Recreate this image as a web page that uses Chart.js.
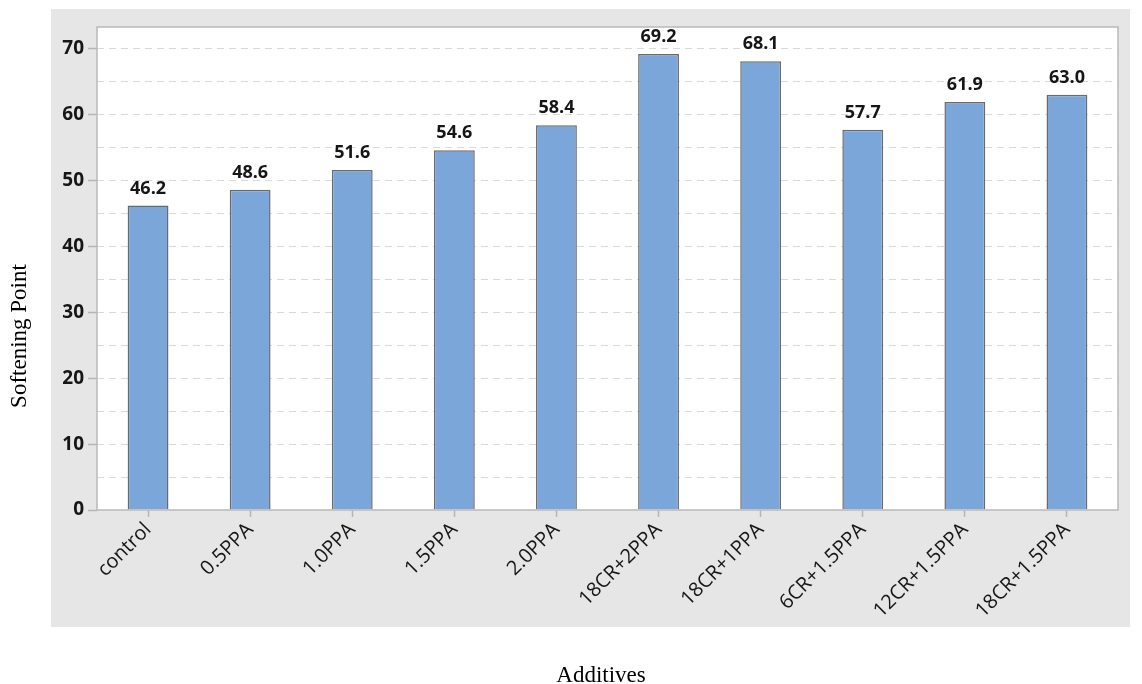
<!DOCTYPE html>
<html>
<head>
<meta charset="utf-8">
<script src="https://cdn.jsdelivr.net/npm/chart.js@4"></script>
<style>
  html, body { margin: 0; padding: 0; background: #ffffff; }
  #wrap { width: 1142px; height: 684px; position: relative; }
</style>
</head>
<body>
<div id="wrap"><canvas id="chart" width="1142" height="684"></canvas></div>
<script>
// Softening point by additive blend
const categories = ['control', '0.5PPA', '1.0PPA', '1.5PPA', '2.0PPA',
  '18CR+2PPA', '18CR+1PPA', '6CR+1.5PPA', '12CR+1.5PPA', '18CR+1.5PPA'];
const softeningPoint = [46.2, 48.6, 51.6, 54.6, 58.4, 69.2, 68.1, 57.7, 61.9, 63.0];
const yTickLabels = [0, 10, 20, 30, 40, 50, 60, 70];
const xTitle = 'Additives';
const yTitle = 'Softening Point';

const TEXT = '#161616';
const PANEL = '#e6e6e6';
const SANS = '"Open Sans", "DejaVu Sans", sans-serif';
const SERIF = '"Liberation Serif", "Times New Roman", serif';

// Gray panel behind the plot, white plot area and its frame
const panelPlugin = {
  id: 'panel',
  beforeDraw(chart) {
    const { ctx, chartArea: a } = chart;
    ctx.save();
    ctx.fillStyle = PANEL;
    ctx.fillRect(51, 9, 1079, 618);
    ctx.fillStyle = '#ffffff';
    ctx.fillRect(a.left, a.top, a.right - a.left, a.bottom - a.top);
    ctx.restore();
  },
  afterDatasetsDraw(chart) {
    const { ctx, chartArea: a } = chart;
    ctx.save();
    ctx.strokeStyle = '#b9b9b9';
    ctx.lineWidth = 1.5;
    ctx.strokeRect(a.left, a.top, a.right - a.left, a.bottom - a.top);
    ctx.restore();
  }
};

// Axis titles sit outside the gray panel, in a serif face
const axisTitles = {
  id: 'axisTitles',
  afterDraw(chart) {
    const { ctx } = chart;
    ctx.save();
    ctx.fillStyle = '#000000';
    ctx.font = '23px ' + SERIF;
    ctx.textAlign = 'center';
    ctx.textBaseline = 'alphabetic';
    ctx.fillText(xTitle, 601, 682);
    ctx.translate(26, 336);
    ctx.rotate(-Math.PI / 2);
    ctx.fillText(yTitle, 0, 0);
    ctx.restore();
  }
};

// Value labels above each bar
const valueLabels = {
  id: 'valueLabels',
  afterDatasetsDraw(chart) {
    const { ctx } = chart;
    const meta = chart.getDatasetMeta(0);
    const data = chart.data.datasets[0].data;
    ctx.save();
    ctx.font = 'bold 18px ' + SANS;
    ctx.fillStyle = TEXT;
    ctx.textAlign = 'center';
    ctx.textBaseline = 'alphabetic';
    meta.data.forEach((bar, i) => {
      ctx.fillText(data[i].toFixed(1), bar.x, bar.y - 12);
    });
    ctx.restore();
  }
};

new Chart(document.getElementById('chart'), {
  type: 'bar',
  data: {
    labels: categories,
    datasets: [{
      data: softeningPoint,
      backgroundColor: '#7ba6d9',
      borderColor: '#6a6a6a',
      borderWidth: 1.5,
      categoryPercentage: 1,
      barPercentage: 0.4
    }]
  },
  options: {
    responsive: false,
    animation: false,
    events: [],
    layout: { padding: { top: 27, right: 24, left: 0, bottom: 0 } },
    plugins: { legend: { display: false }, tooltip: { enabled: false } },
    scales: {
      x: {
        afterFit(scale) { scale.height = 174; },
        grid: {
          display: true,
          offset: false,
          drawOnChartArea: false,
          drawTicks: true,
          tickLength: 7,
          tickColor: '#b5b5b5',
          tickWidth: 1.5
        },
        border: { display: false },
        ticks: {
          color: TEXT,
          font: { family: SANS, size: 20 },
          minRotation: 45,
          maxRotation: 45,
          padding: 1,
          autoSkip: false
        },
        title: { display: false }
      },
      y: {
        min: 0,
        max: 73.3,
        afterFit(scale) { scale.width = 97; },
        grid: {
          color: (c) => (c.tick && c.tick.value === 0) ? 'rgba(0,0,0,0)' : '#d9d9d9',
          lineWidth: 1,
          drawTicks: true,
          tickLength: 9,
          tickColor: (c) => (c.tick && yTickLabels.includes(c.tick.value)) ? '#b5b5b5' : 'rgba(0,0,0,0)',
          tickWidth: 1.5,
          tickBorderDash: [0, 0]
        },
        border: { display: false, dash: [7, 5] },
        ticks: {
          stepSize: 5,
          includeBounds: false,
          color: TEXT,
          padding: 4,
          font: { family: SANS, size: 19, weight: 'bold' },
          callback: (v) => yTickLabels.includes(v) ? String(v) : ''
        },
        title: { display: false }
      }
    }
  },
  plugins: [panelPlugin, valueLabels, axisTitles]
});
</script>
</body>
</html>
